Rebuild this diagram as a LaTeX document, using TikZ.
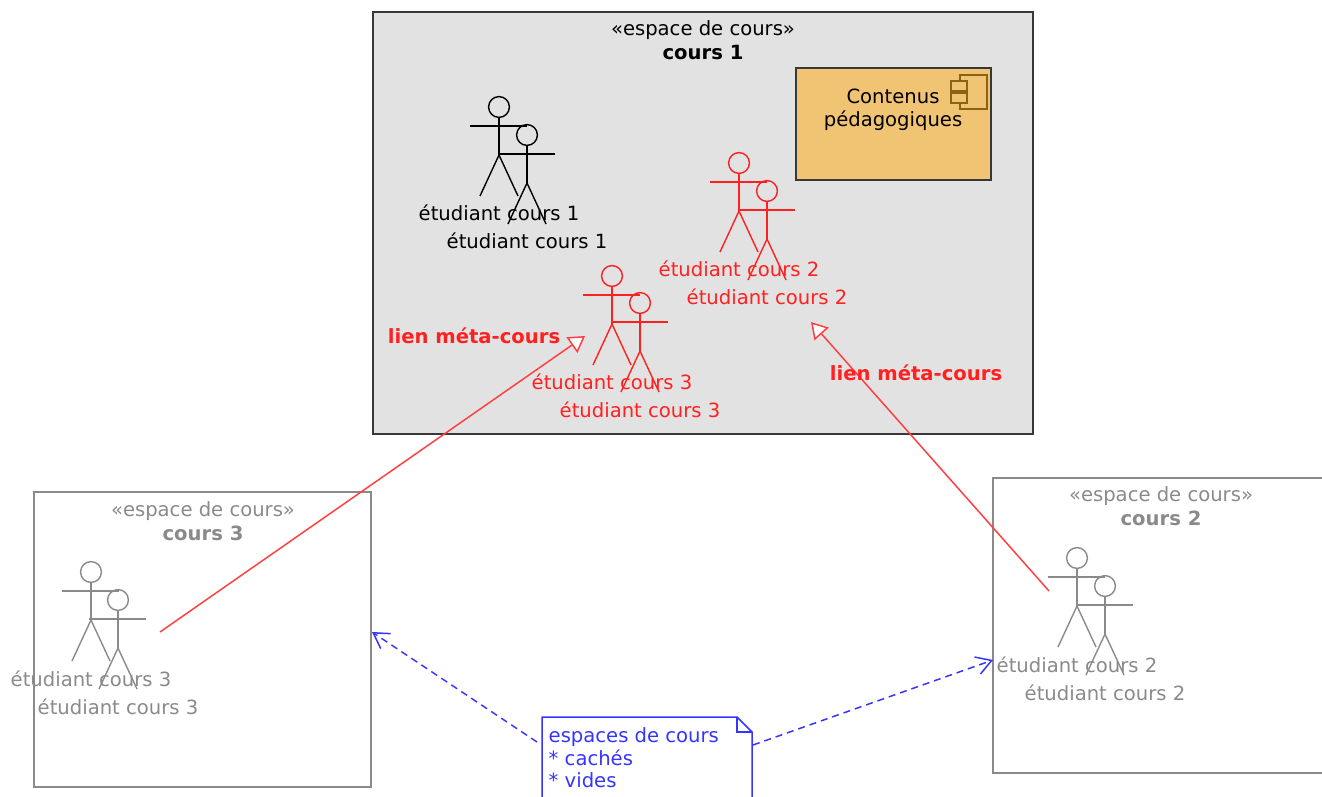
\documentclass[tikz,border=0pt]{standalone}
\usepackage{fontspec}
\setmainfont{DejaVu Sans}
\usepackage{tikz}
\usetikzlibrary{arrows.meta}

\definecolor{spacegray}{HTML}{E2E2E2}
\definecolor{darkline}{HTML}{383838}
\definecolor{greyline}{HTML}{8A8A8A}
\definecolor{metared}{HTML}{FF2020}
\definecolor{linkred}{HTML}{FF4040}
\definecolor{noteblue}{HTML}{3535FF}
\definecolor{compfill}{HTML}{F1C474}
\definecolor{compline}{HTML}{8A6412}

\tikzset{
  stick/.pic={
    \draw (0,0) circle[radius=5.2pt];
    \draw (0,10) -- (0,48);
    \draw (-29,19) -- (28,19);
    \draw (-19,89) -- (0,48) -- (19,89);
  },
  lab/.style={inner sep=0pt, font=\fontsize{9.8}{12}\selectfont},
  boldlab/.style={lab, font=\fontsize{9.8}{12}\selectfont\bfseries},
  space/.style={draw, line width=0.75pt, inner sep=0pt},
  meta/.style={linkred, line width=0.75pt, -{Triangle[fill=white, length=8pt, width=9.5pt]}},
  hidden/.style={noteblue, line width=0.75pt, dash pattern=on 3.5pt off 2.5pt, -{Straight Barb[length=7.5pt, width=9pt]}}
}

\begin{document}
\begin{tikzpicture}[x=0.5pt, y=-0.5pt, line width=0.7pt]
    \useasboundingbox (0,0) rectangle (1322,797);
    \clip (0,0) rectangle (1322,797);

    % espace de cours 1
    \node[space, darkline, fill=spacegray, minimum width=330pt, minimum height=211pt] (C1) at (703,223) {};
    \node[lab] (C1st) at (703,30) {«espace de cours»};
    \node[boldlab] (C1nm) at (703,52) {cours 1};

    \node[space, darkline, fill=compfill, minimum width=97.5pt, minimum height=56pt] (CP) at (893.5,124) {};
    \node[lab, align=center, font=\fontsize{9.8}{11.5}\selectfont] (CPt) at (893,110) {Contenus\\pédagogiques};
    \draw[compline, line width=0.6pt] (960,75) rectangle (987,109);
    \draw[compline, line width=0.6pt, fill=compfill] (951,81) rectangle (967,91);
    \draw[compline, line width=0.6pt, fill=compfill] (951,93) rectangle (967,103);

    \pic[black] at (499,107) {stick};
    \pic[black] at (527,135) {stick};
    \node[lab] (E1a) at (499,213) {étudiant cours 1};
    \node[lab] (E1b) at (527,241) {étudiant cours 1};

    \pic[metared] at (739,163) {stick};
    \pic[metared] at (767,191) {stick};
    \node[lab, metared] (E2a) at (739,269) {étudiant cours 2};
    \node[lab, metared] (E2b) at (767,297) {étudiant cours 2};

    \pic[metared] at (612,276) {stick};
    \pic[metared] at (640,303) {stick};
    \node[lab, metared] (E3a) at (612,382) {étudiant cours 3};
    \node[lab, metared] (E3b) at (640,410) {étudiant cours 3};

    % espace de cours 3
    \node[space, greyline, minimum width=168.5pt, minimum height=147.5pt] (C3) at (202.5,639.5) {};
    \node[lab, greyline] (C3st) at (203,511) {«espace de cours»};
    \node[boldlab, greyline] (C3nm) at (203,533) {cours 3};
    \pic[greyline] at (91,572) {stick};
    \pic[greyline] at (118,600) {stick};
    \node[lab, greyline] (G3a) at (91,679) {étudiant cours 3};
    \node[lab, greyline] (G3b) at (118,707) {étudiant cours 3};

    % espace de cours 2
    \node[space, greyline, minimum width=168pt, minimum height=147.5pt] (C2) at (1161,625.5) {};
    \node[lab, greyline] (C2st) at (1161,496) {«espace de cours»};
    \node[boldlab, greyline] (C2nm) at (1161,518) {cours 2};
    \pic[greyline] at (1077,558) {stick};
    \pic[greyline] at (1105,586) {stick};
    \node[lab, greyline] (G2a) at (1077,665) {étudiant cours 2};
    \node[lab, greyline] (G2b) at (1105,693) {étudiant cours 2};

    % note
    \draw[noteblue, line width=0.75pt, fill=white] (542,800) -- (542,717) -- (737,717) -- (752,732) -- (752,800);
    \draw[noteblue, line width=0.75pt] (737,717) -- (737,732) -- (752,732);
    \node[lab, noteblue, anchor=west, align=left, font=\fontsize{9.8}{11.25}\selectfont] (NT) at (548,758) {espaces de cours\\* cachés\\* vides};

    % liens
    \coordinate (M3s) at (160,632);
    \coordinate (M3e) at (585,336);
    \coordinate (M2s) at (1049,591);
    \coordinate (M2e) at (811,322);
    \coordinate (Nl) at (537,742);
    \coordinate (Nr) at (753,745);
    \coordinate (C3in) at (372,632);
    \coordinate (C2in) at (993,660);

    \draw[meta] (M3s) -- (M3e);
    \draw[meta] (M2s) -- (M2e);
    \node[boldlab, metared] (L3) at (474,336) {lien méta-cours};
    \node[boldlab, metared] (L2) at (916,373) {lien méta-cours};

    \draw[hidden] (Nl) -- (C3in);
    \draw[hidden] (Nr) -- (C2in);
\end{tikzpicture}
\end{document}
